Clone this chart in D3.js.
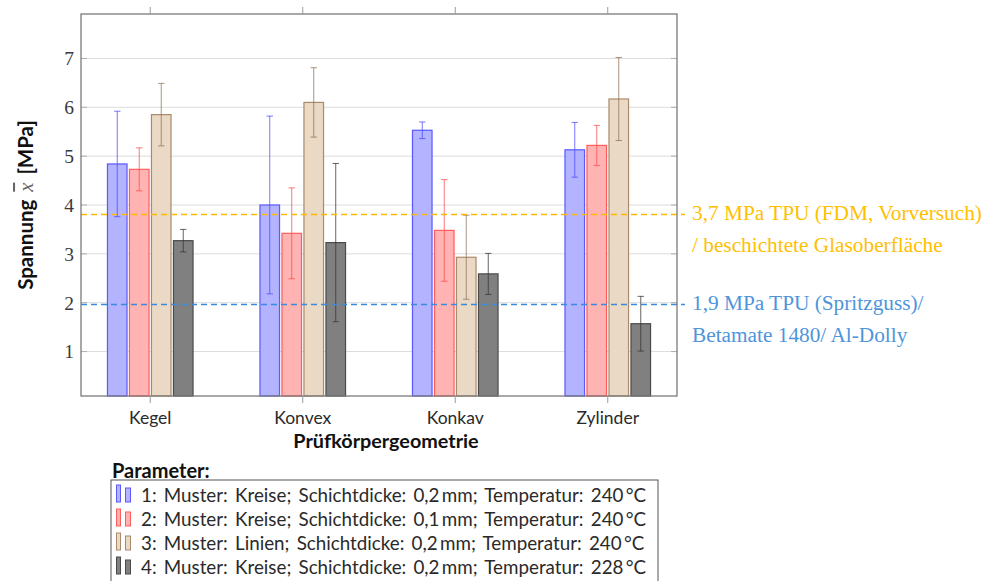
<!DOCTYPE html>
<html><head><meta charset="utf-8">
<script src="https://cdn.jsdelivr.net/npm/d3@7"></script>
<style>body{margin:0;background:#fff}svg{display:block}</style>
</head><body><svg id="c" width="997" height="581"></svg>
<script>
const categories = ["Kegel", "Konvex", "Konkav", "Zylinder"];
const seriesNames = ["1", "2", "3", "4"];
const legendLabels = [
  "1: Muster: Kreise; Schichtdicke: 0,2\u2009mm; Temperatur: 240\u2009°C",
  "2: Muster: Kreise; Schichtdicke: 0,1\u2009mm; Temperatur: 240\u2009°C",
  "3: Muster: Linien; Schichtdicke: 0,2\u2009mm; Temperatur: 240\u2009°C",
  "4: Muster: Kreise; Schichtdicke: 0,2\u2009mm; Temperatur: 228\u2009°C"
];
// mean values per series and category
const values1 = [4.84, 4.00, 5.53, 5.13];
const values2 = [4.73, 3.42, 3.48, 5.22];
const values3 = [5.85, 6.10, 2.93, 6.17];
const values4 = [3.27, 3.23, 2.59, 1.57];
const errors1 = [1.08, 1.82, 0.17, 0.56];
const errors2 = [0.44, 0.93, 1.04, 0.41];
const errors3 = [0.64, 0.71, 0.86, 0.85];
const errors4 = [0.23, 1.62, 0.42, 0.56];
const yTicks = [1, 2, 3, 4, 5, 6, 7];
const refValues = [3.81, 1.98];
const refLabels = [
  ["3,7 MPa TPU (FDM, Vorversuch)", "/ beschichtete Glasoberfläche"],
  ["1,9 MPa TPU (Spritzguss)/", "Betamate 1480/ Al-Dolly"]
];

const values = [values1, values2, values3, values4];
const errors = [errors1, errors2, errors3, errors4];
const fills = ["#b3b3ff", "#ffb3b3", "#ead9c5", "#808080"];
const strokes = ["#5a5aff", "#ff5c5c", "#a88a6c", "#4a4a4a"];
const errCols = ["#4a4aff", "#ff4a4a", "#8f7257", "#333333"];
const refCols = ["#ffc000", "#4e95da"];
const refLineCols = ["#ffb800", "#3a8ae0"];

const svg = d3.select("#c");
const L = 81, R = 677, T = 14, B = 396;
const x = d3.scalePoint().domain(categories).range([L, R]).padding(0.454);
const xi = d3.scaleBand().domain(seriesNames).range([-44, 44]).paddingInner(0.11).paddingOuter(0.055);
const y = d3.scaleLinear().domain([0.09, 7.91]).range([B, T]);

// grid
svg.append("g").selectAll("line").data(yTicks).join("line")
  .attr("x1", L).attr("x2", R).attr("y1", d => y(d)).attr("y2", d => y(d))
  .attr("stroke", "#dcdcdc").attr("stroke-width", 1);
svg.append("g").selectAll("line").data(yTicks).join("line")
  .attr("x1", R - 6).attr("x2", R).attr("y1", d => y(d)).attr("y2", d => y(d))
  .attr("stroke", "#b0b0b0").attr("stroke-width", 1);
svg.append("g").selectAll("line").data(yTicks).join("line")
  .attr("x1", L).attr("x2", L + 6).attr("y1", d => y(d)).attr("y2", d => y(d))
  .attr("stroke", "#b0b0b0").attr("stroke-width", 1);

// bars
const data = [];
categories.forEach((c, ci) => seriesNames.forEach((s, si) => data.push({c, s, si, v: values[si][ci], e: errors[si][ci]})));
svg.append("g").selectAll("rect").data(data).join("rect")
  .attr("x", d => x(d.c) + xi(d.s)).attr("width", xi.bandwidth())
  .attr("y", d => y(d.v)).attr("height", d => B - y(d.v))
  .attr("fill", d => fills[d.si]).attr("stroke", d => strokes[d.si]).attr("stroke-width", 1.2);

// error bars
const eg = svg.append("g");
data.forEach(d => {
  const cx = x(d.c) + xi(d.s) + xi.bandwidth() / 2;
  const col = errCols[d.si];
  const ln = (x1, y1, x2, y2) => eg.append("line").attr("x1", x1).attr("y1", y1).attr("x2", x2).attr("y2", y2)
    .attr("stroke", col).attr("stroke-width", 1).attr("stroke-opacity", 0.75);
  ln(cx, y(d.v + d.e), cx, y(d.v - d.e));
  ln(cx - 3.2, y(d.v + d.e), cx + 3.2, y(d.v + d.e));
  ln(cx - 3.2, y(d.v - d.e), cx + 3.2, y(d.v - d.e));
});

// reference lines
refValues.forEach((v, i) => {
  const yy = Math.round(y(v)) + 0.5;
  svg.append("line").attr("x1", L).attr("x2", 685).attr("y1", yy).attr("y2", yy)
    .attr("stroke", refLineCols[i]).attr("stroke-width", 1.4).attr("stroke-dasharray", "6,4");
});
const refTextY = [[220, 252], [310, 342]];
refLabels.forEach((lines, i) => {
  lines.forEach((t, j) => {
    svg.append("text").attr("x", 692).attr("y", refTextY[i][j]).text(t)
      .attr("font-family", "Liberation Serif, serif").attr("font-size", 21.3).attr("fill", refCols[i]);
  });
});

// frame
svg.append("rect").attr("x", L).attr("y", T).attr("width", R - L).attr("height", B - T)
  .attr("fill", "none").attr("stroke", "#7a7a7a").attr("stroke-width", 1.3);
svg.append("g").selectAll("line").data(categories).join("line")
  .attr("x1", d => x(d)).attr("x2", d => x(d)).attr("y1", T - 7).attr("y2", T)
  .attr("stroke", "#9a9a9a").attr("stroke-width", 1);
svg.append("g").selectAll("line").data(categories).join("line")
  .attr("x1", d => x(d)).attr("x2", d => x(d)).attr("y1", B).attr("y2", B + 7)
  .attr("stroke", "#9a9a9a").attr("stroke-width", 1);

// y tick labels
svg.append("g").selectAll("text").data(yTicks).join("text")
  .attr("x", 74).attr("y", d => y(d)).attr("dy", "0.35em").attr("text-anchor", "end")
  .attr("font-family", "Liberation Serif, serif").attr("font-size", 19.5).attr("fill", "#3a3a3a").text(d => d);
// x tick labels
svg.append("g").selectAll("text").data(categories).join("text")
  .attr("x", d => x(d)).attr("y", 424).attr("text-anchor", "middle")
  .attr("font-family", "Lato, sans-serif").attr("font-size", 17.5).attr("fill", "#2a2a2a").text(d => d);
// x label
svg.append("text").attr("x", 386).attr("y", 448).attr("text-anchor", "middle")
  .attr("font-family", "Lato, sans-serif").attr("font-weight", "bold").attr("font-size", 19.8).attr("fill", "#111")
  .text("Prüfkörpergeometrie");
// y label
const yl = svg.append("text").attr("transform", "translate(33,205) rotate(-90)").attr("text-anchor", "middle")
  .attr("font-family", "Lato, sans-serif").attr("font-weight", "bold").attr("font-size", 20.5).attr("fill", "#111")
  .attr("word-spacing", 3);
yl.append("tspan").text("Spannung ");
yl.append("tspan").attr("font-family", "Liberation Serif, serif").attr("font-style", "italic").attr("font-weight", "normal")
  .attr("fill", "#666").attr("text-decoration", "overline").text("x");
yl.append("tspan").text(" [MPa]");

// legend
svg.append("text").attr("x", 112).attr("y", 478).attr("font-family", "Lato, sans-serif").attr("font-weight", "bold")
  .attr("font-size", 20).attr("fill", "#111").text("Parameter:");
svg.append("rect").attr("x", 111).attr("y", 480).attr("width", 547).attr("height", 110)
  .attr("fill", "#fff").attr("stroke", "#555").attr("stroke-width", 1);
const legRowY = [495, 519, 543, 567];
legendLabels.forEach((t, i) => {
  const cy = legRowY[i];
  svg.append("rect").attr("x", 116.5).attr("y", cy - 10).attr("width", 4).attr("height", 17)
    .attr("fill", fills[i]).attr("stroke", strokes[i]).attr("stroke-width", 1);
  svg.append("rect").attr("x", 125.5).attr("y", cy - 7).attr("width", 5).attr("height", 14)
    .attr("fill", fills[i]).attr("stroke", strokes[i]).attr("stroke-width", 1);
  svg.append("text").attr("x", 141).attr("y", cy).attr("dy", "0.35em")
    .attr("font-family", "Lato, sans-serif").attr("font-size", 18.8).attr("word-spacing", 2.4)
    .attr("fill", "#2a2a2a").text(t);
});
</script></body></html>
